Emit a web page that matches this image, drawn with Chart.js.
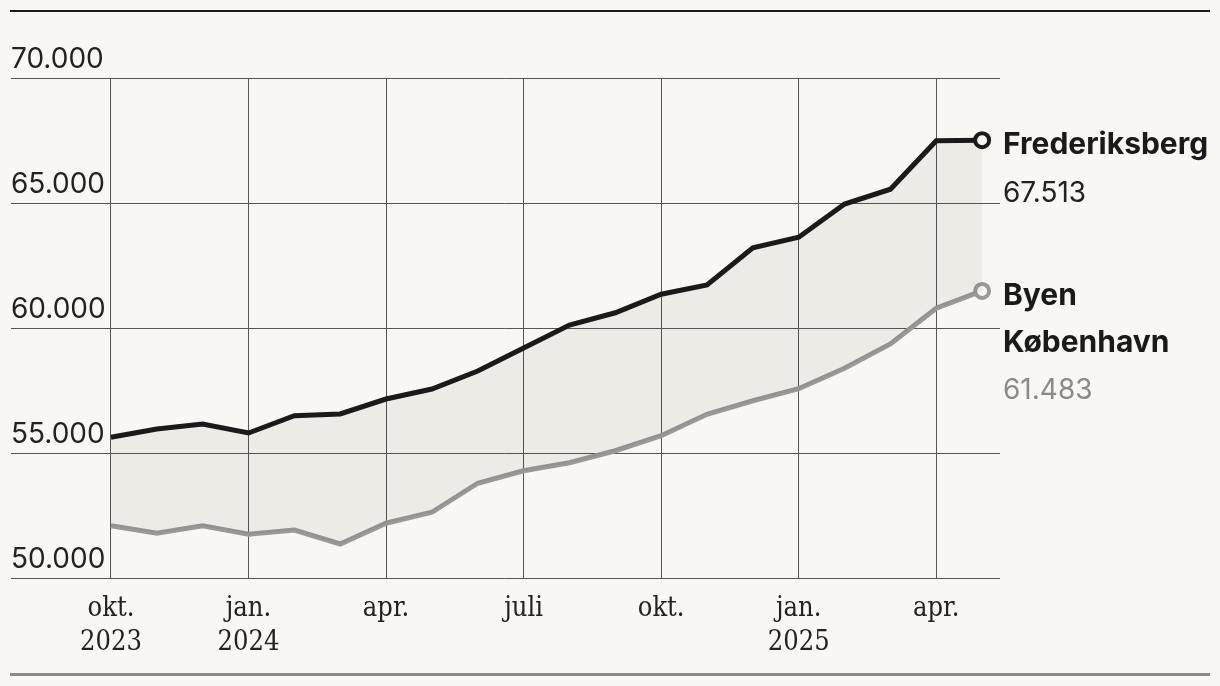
<!DOCTYPE html>
<html>
<head>
<meta charset="utf-8">
<script src="https://cdn.jsdelivr.net/npm/chart.js@4"></script>
<style>
  html, body { margin: 0; padding: 0; background: #f9f7f3; }
  #wrap { width: 1220px; height: 686px; position: relative; }
</style>
</head>
<body>
<div id="wrap"><canvas id="chart"></canvas></div>
<script>
'use strict'

// months from okt. 2023 to maj 2025
const months = ['2023-10','2023-11','2023-12','2024-01','2024-02','2024-03','2024-04','2024-05','2024-06','2024-07',
                '2024-08','2024-09','2024-10','2024-11','2024-12','2025-01','2025-02','2025-03','2025-04','2025-05'];

const frederiksberg = [55630, 55960, 56160, 55800, 56490, 56560, 57160, 57560, 58280, 59200,
                       60120, 60610, 61350, 61720, 63210, 63630, 64960, 65550, 67490, 67513];

const kobenhavn = [52090, 51790, 52090, 51750, 51920, 51360, 52190, 52630, 53790, 54290,
                   54610, 55090, 55690, 56550, 57090, 57570, 58390, 59360, 60790, 61483];

const tickMonths = [0, 3, 6, 9, 12, 15, 18];
const tickLabels = [['okt.', '2023'], ['jan.', '2024'], ['apr.'], ['juli'], ['okt.'], ['jan.', '2025'], ['apr.']];
const yTicks = [50000, 55000, 60000, 65000, 70000];

const seriesNames = [['Frederiksberg'], ['Byen', 'København']];

function fmt(n) {
    return String(n).replace(/\B(?=(\d{3})+(?!\d))/g, '.');
}

const BG = '#f9f7f3';
const DARK = '#1a1a1a';
const GREY = '#999999';

const decorPlugin = {
    id: 'decor',
    beforeDraw(chart) {
        const ctx = chart.ctx;
        ctx.save();
        ctx.fillStyle = BG;
        ctx.fillRect(0, 0, chart.width, chart.height);
        ctx.restore();
    },
    afterDraw(chart) {
        const ctx = chart.ctx;
        const y = chart.scales.y;
        const area = chart.chartArea;
        ctx.save();

        // top and bottom rules
        ctx.fillStyle = DARK;
        ctx.fillRect(10, 10, 1200, 2);
        ctx.fillStyle = '#8a8a8a';
        ctx.fillRect(10, 673, 1200, 3);

        // y labels above the grid lines
        ctx.font = '400 28px Inter, "Noto Sans", sans-serif';
        ctx.fillStyle = '#222';
        ctx.textAlign = 'left';
        ctx.textBaseline = 'alphabetic';
        yTicks.forEach(v => {
            ctx.fillText(fmt(v), area.left, y.getPixelForValue(v) - 10);
        });

        // end labels
        const sets = [frederiksberg, kobenhavn];
        const valueColors = ['#222', '#8a8a8a'];
        sets.forEach((data, i) => {
            const meta = chart.getDatasetMeta(i);
            const last = meta.data[meta.data.length - 1];
            let ly = last.y + 5;
            ctx.textBaseline = 'middle';
            ctx.fillStyle = DARK;
            ctx.font = '700 30px Inter, "Noto Sans", sans-serif';
            seriesNames[i].forEach(line => {
                ctx.fillText(line, 1003, ly);
                ly += 47;
            });
            ctx.font = '400 28px Inter, "Noto Sans", sans-serif';
            ctx.fillStyle = valueColors[i];
            ctx.fillText(fmt(data[data.length - 1]), 1003, ly + 1);
        });
        ctx.restore();
    }
};

const lastOnly = (n, r) => months.map((m, i) => (i === n - 1 ? r : 0));

new Chart(document.getElementById('chart'), {
    type: 'line',
    data: {
        labels: months,
        datasets: [
            {
                label: 'Frederiksberg',
                data: frederiksberg.map((v, i) => ({ x: i, y: v })),
                borderColor: DARK,
                borderWidth: 5,
                backgroundColor: 'rgba(40, 30, 10, 0.055)',
                fill: '+1',
                tension: 0,
                pointRadius: lastOnly(months.length, 7),
                pointBorderWidth: 4,
                pointBorderColor: DARK,
                pointBackgroundColor: BG
            },
            {
                label: 'Byen København',
                data: kobenhavn.map((v, i) => ({ x: i, y: v })),
                borderColor: GREY,
                borderWidth: 5,
                fill: false,
                tension: 0,
                pointRadius: lastOnly(months.length, 7),
                pointBorderWidth: 4,
                pointBorderColor: GREY,
                pointBackgroundColor: BG
            }
        ]
    },
    options: {
        responsive: true,
        maintainAspectRatio: false,
        animation: false,
        layout: { padding: { left: 10, top: 78, right: 220, bottom: 0 } },
        plugins: {
            legend: { display: false },
            tooltip: { enabled: false }
        },
        scales: {
            x: {
                type: 'linear',
                min: -2.18,
                max: 19.39,
                afterBuildTicks(scale) {
                    scale.ticks = tickMonths.map(v => ({ value: v }));
                },
                afterFit(scale) { scale.height = 108; },
                grid: { color: '#555', lineWidth: 1, drawTicks: false },
                border: { display: false },
                ticks: {
                    padding: 14,
                    color: '#222',
                    maxRotation: 0,
                    autoSkip: false,
                    font: { family: '"DejaVu Serif Condensed", "DejaVu Serif", serif', size: 27, lineHeight: 1.25 },
                    callback(value) {
                        const k = tickMonths.indexOf(value);
                        return k >= 0 ? tickLabels[k] : '';
                    }
                }
            },
            y: {
                min: 50000,
                max: 70000,
                afterBuildTicks(scale) {
                    scale.ticks = yTicks.map(v => ({ value: v }));
                },
                afterFit(scale) { scale.width = 0; },
                grid: { color: '#555', lineWidth: 1, drawTicks: false },
                border: { display: false },
                ticks: { display: false }
            }
        }
    },
    plugins: [decorPlugin]
});
</script>
</body>
</html>
